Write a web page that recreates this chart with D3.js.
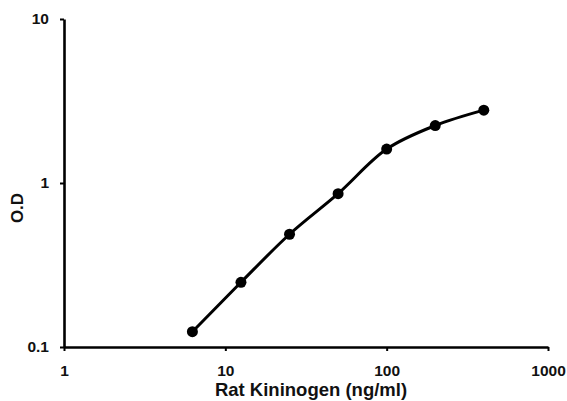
<!DOCTYPE html>
<html><head><meta charset="utf-8">
<script src="https://cdn.jsdelivr.net/npm/d3@7"></script>
<style>body{margin:0;background:#fff}svg{display:block}text{font-family:"Liberation Sans",Arial,sans-serif;font-weight:bold;fill:#111}</style>
</head><body><svg id="c" width="567" height="401"></svg>
<script>
const concentrations = [6.25, 12.5, 25, 50, 100, 200, 400];
const odValues = [0.124, 0.248, 0.487, 0.861, 1.61, 2.24, 2.78];
const xTicks = [1, 10, 100, 1000];
const yTicks = [0.1, 1, 10];
const xTitle = "Rat Kininogen (ng/ml)";
const yTitle = "O.D";

const svg = d3.select("#c");
const x = d3.scaleLog().domain([1, 1000]).range([64, 548]);
const y = d3.scaleLog().domain([0.1, 10]).range([347, 19]);

const xAxis = svg.append("g").attr("transform", "translate(0,347)")
  .call(d3.axisBottom(x).tickValues(xTicks).tickFormat(d3.format("d")).tickSize(4).tickSizeOuter(0).tickPadding(14));
const yAxis = svg.append("g").attr("transform", "translate(64,0)")
  .call(d3.axisLeft(y).tickValues(yTicks).tickFormat(d => d < 1 ? "0.1" : String(d)).tickSize(4).tickSizeOuter(0).tickPadding(11));
[xAxis, yAxis].forEach(a => {
  a.select(".domain").attr("stroke", "#000").attr("stroke-width", 2.6);
  a.selectAll(".tick line").attr("stroke", "#000").attr("stroke-width", 2);
  a.selectAll(".tick text").attr("font-size", 15.5).style("font-weight", "bold").attr("fill", "#111");
});

svg.append("text").attr("x", 311).attr("y", 396).attr("text-anchor", "middle").attr("font-size", 18.5).text(xTitle);
svg.append("text").attr("transform", "translate(23,208) rotate(-90)").attr("text-anchor", "middle").attr("font-size", 17).text(yTitle);

const pts = concentrations.map((c, i) => [x(c), y(odValues[i])]);
svg.append("path").attr("d", d3.line().curve(d3.curveCatmullRom.alpha(0.5))(pts))
  .attr("fill", "none").attr("stroke", "#000").attr("stroke-width", 3);
svg.selectAll("circle.p").data(concentrations).enter().append("circle")
  .attr("cx", d => x(d)).attr("cy", (d, i) => y(odValues[i])).attr("r", 5.5).attr("fill", "#000");
</script></body></html>
